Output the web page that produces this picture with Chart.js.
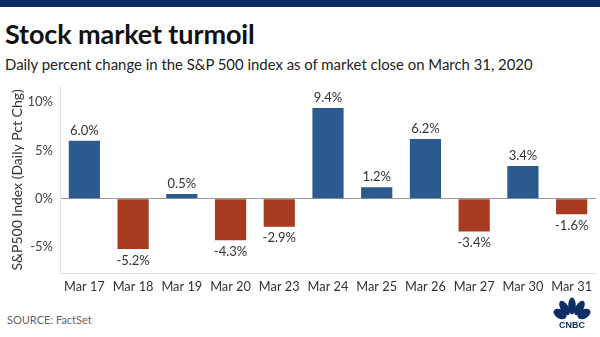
<!DOCTYPE html>
<html><head><meta charset="utf-8">
<script src="https://cdn.jsdelivr.net/npm/chart.js@4/dist/chart.umd.min.js"></script>
<style>
html,body{margin:0;padding:0;background:#fff;width:600px;height:337px;overflow:hidden;font-family:Lato,"Open Sans",sans-serif;}
#bar{position:absolute;left:0;top:0;width:600px;height:7px;background:#0c2e64;}
#title{position:absolute;left:5px;top:17px;font-size:27px;font-weight:700;color:#111;letter-spacing:-0.1px;}
#sub{position:absolute;left:5px;top:55px;font-size:14.9px;color:#222;}
#src{position:absolute;left:7px;top:313px;font-size:11px;color:#666;}
#wrap{position:absolute;left:0;top:72px;width:600px;height:231px;}
#logo{position:absolute;left:552px;top:297px;}
</style></head><body>
<div id="bar"></div>
<div id="title">Stock market turmoil</div>
<div id="sub">Daily percent change in the S&amp;P 500 index as of market close on March 31, 2020</div>
<div id="wrap"><canvas id="c"></canvas></div>
<div id="src">SOURCE: FactSet</div>
<svg id="logo" width="40" height="34" viewBox="0 0 40 34">
 <g fill="#0c2e64">
  <ellipse cx="8" cy="17" rx="4.5" ry="7" transform="rotate(-60 8 17)"/>
  <ellipse cx="12.5" cy="11" rx="4" ry="8" transform="rotate(-30 12.5 11)"/>
  <ellipse cx="20" cy="9" rx="3.8" ry="8.5"/>
  <ellipse cx="27.5" cy="11" rx="4" ry="8" transform="rotate(30 27.5 11)"/>
  <ellipse cx="32" cy="17" rx="4.5" ry="7" transform="rotate(60 32 17)"/>
 </g>
 <text x="20" y="31" text-anchor="middle" font-family="Liberation Sans, Arial" font-weight="700" font-size="9" fill="#0c2e64">CNBC</text>
</svg>
<script>
const categories = ["Mar 17","Mar 18","Mar 19","Mar 20","Mar 23","Mar 24","Mar 25","Mar 26","Mar 27","Mar 30","Mar 31"];
const pctChange = [6.0,-5.2,0.5,-4.3,-2.9,9.4,1.2,6.2,-3.4,3.4,-1.6];
const yTicks = [-5,0,5,10];
const upColor = "#2b5b8e";
const downColor = "#a63b1f";

const labelPlugin = {
  id:"barLabels",
  afterDatasetsDraw(chart){
    const ctx = chart.ctx;
    const meta = chart.getDatasetMeta(0);
    ctx.save();
    ctx.font = "13px Lato, 'Open Sans', sans-serif";
    ctx.fillStyle = "#333";
    ctx.textAlign = "center";
    meta.data.forEach((el,i)=>{
      const v = pctChange[i];
      const txt = v.toFixed(1) + "%";
      if (v >= 0){ ctx.textBaseline="bottom"; ctx.fillText(txt, el.x, el.y - 4); }
      else { ctx.textBaseline="top"; ctx.fillText(txt, el.x, el.y + 5); }
    });
    ctx.restore();
  }
};

new Chart(document.getElementById("c"), {
  type:"bar",
  data:{labels:categories, datasets:[{data:pctChange,
    backgroundColor: pctChange.map(v=> v>=0?upColor:downColor),
    barPercentage:0.64, categoryPercentage:1.0}]},
  options:{
    responsive:true, maintainAspectRatio:false, animation:false,
    layout:{padding:{top:0,right:4,left:0,bottom:0}},
    plugins:{legend:{display:false}, tooltip:{enabled:false}},
    scales:{
      x:{
        grid:{display:false, drawTicks:false},
        border:{display:true,color:"#e2e2e2"},
        ticks:{color:"#333", font:{size:12.8, family:"Lato"}, padding:6, maxRotation:0, autoSkip:false},
        afterFit(s){ s.height = 30; }
      },
      y:{
        min:-7.7, max:11.6,
        afterBuildTicks(s){ s.ticks = yTicks.map(v=>({value:v})); },
        grid:{drawTicks:false, color:(c)=> c.tick && c.tick.value===0 ? "#9a9a9a" : "rgba(0,0,0,0)", lineWidth:1},
        border:{display:true,color:"#e2e2e2"},
        ticks:{color:"#444", font:{size:13, family:"Lato"}, padding:7, callback:(v)=> v+"%"},
        title:{display:true, text:"S&P500 Index (Daily Pct Chg)", color:"#333", font:{size:14, family:"Lato"}, padding:{top:9,bottom:0}},
        afterFit(s){ s.width = 60; }
      }
    }
  },
  plugins:[labelPlugin]
});
</script>
</body></html>
